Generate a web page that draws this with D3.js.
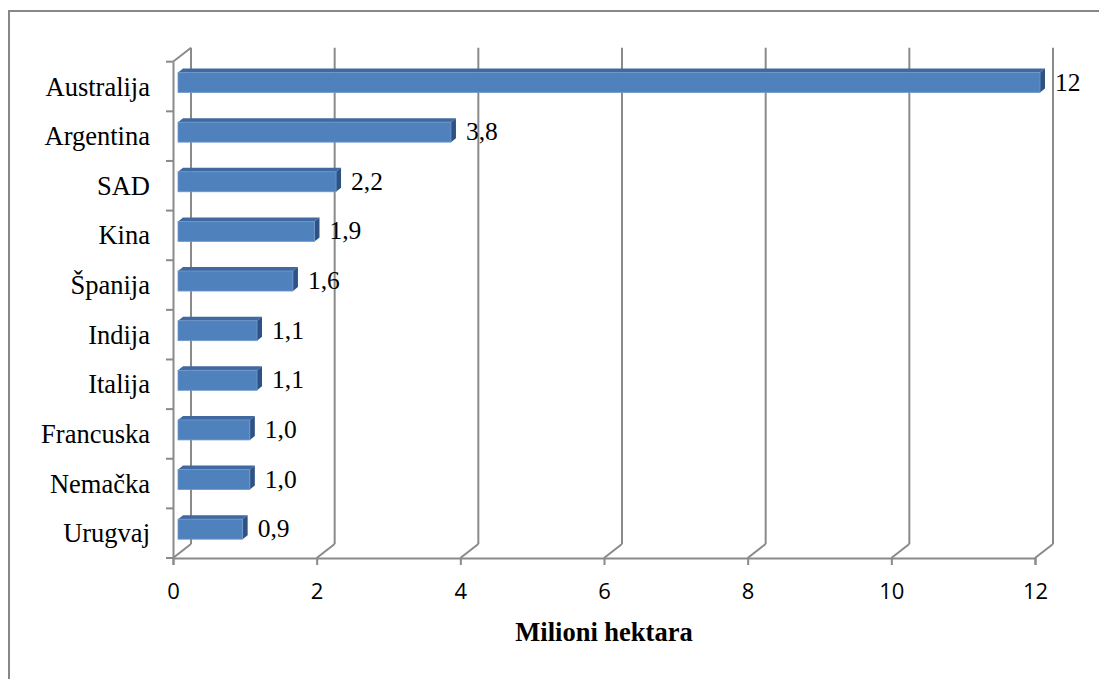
<!DOCTYPE html>
<html><head><meta charset="utf-8">
<script src="https://cdn.jsdelivr.net/npm/d3@7"></script>
<style>html,body{margin:0;padding:0;background:#fff;overflow:hidden}</style>
</head><body>
<svg id="c" width="1099" height="679"></svg>
<script>
const categories = ["Australija","Argentina","SAD","Kina","Španija","Indija","Italija","Francuska","Nemačka","Urugvaj"];
const values = [12, 3.8, 2.2, 1.9, 1.6, 1.1, 1.1, 1.0, 1.0, 0.9];
const valueLabels = ["12","3,8","2,2","1,9","1,6","1,1","1,1","1,0","1,0","0,9"];
const xTicks = [0,2,4,6,8,10,12];
const axisTitle = "Milioni hektara";

(function(){
const svg = d3.select("#c");
svg.append("rect").attr("x",9).attr("y",11).attr("width",1110).attr("height",690)
  .attr("fill","#fff").attr("stroke","#878787").attr("stroke-width",2);

const x = d3.scaleLinear().domain([0,12]).range([173,1035]);
const y = d3.scaleBand().domain(categories).range([61.7,558]).padding(0);
const DX = 18, DY = -14; // wall depth
const grid = "#8a8a8a";
const yTop = y.range()[0], yBot = y.range()[1];
const serif = "'Liberation Serif', 'Times New Roman', serif";

const g = svg.append("g");
xTicks.forEach(t => {
  const fx = x(t);
  g.append("line").attr("x1",fx+DX).attr("x2",fx+DX).attr("y1",yTop+DY).attr("y2",yBot+DY)
    .attr("stroke",grid).attr("stroke-width",2);
  g.append("line").attr("x1",fx).attr("x2",fx+DX).attr("y1",yBot).attr("y2",yBot+DY)
    .attr("stroke",grid).attr("stroke-width",2);
});
g.append("line").attr("x1",x(0)).attr("x2",x(0)+DX).attr("y1",yTop).attr("y2",yTop+DY)
  .attr("stroke",grid).attr("stroke-width",2);

const xAxis = d3.axisBottom(x).tickValues(xTicks).tickSize(7).tickFormat(d3.format("d"));
const xa = svg.append("g").attr("transform",`translate(0,${yBot})`).call(xAxis);
xa.select(".domain").attr("stroke",grid).attr("stroke-width",2);
xa.selectAll(".tick line").attr("stroke",grid).attr("stroke-width",2);
xa.selectAll(".tick text").attr("font-family","'Open Sans', sans-serif").attr("font-size",22)
  .attr("fill","#000").attr("y",41).attr("dy",null);

const yAxis = d3.axisLeft(y).tickSize(0).tickFormat("");
const ya = svg.append("g").attr("transform",`translate(${x(0)},0)`).call(yAxis);
ya.select(".domain").attr("stroke",grid).attr("stroke-width",2);
const bounds = categories.map(c => y(c)).concat([yBot]);
svg.append("g").selectAll("line").data(bounds).join("line")
  .attr("x1",x(0)-7).attr("x2",x(0)).attr("y1",d=>d).attr("y2",d=>d)
  .attr("stroke",grid).attr("stroke-width",2);

svg.append("g").selectAll("text").data(categories).join("text")
  .attr("x",150).attr("y",d=>y(d)+y.bandwidth()/2+9)
  .attr("text-anchor","end").attr("font-family",serif)
  .attr("font-size",26.5).attr("fill","#000").text(d=>d);

const bh = 20, bdx = 5, bdy = -4, off = 5;
const bars = svg.append("g").selectAll("g").data(categories).join("g");
bars.each(function(c,i){
  const gg = d3.select(this);
  const cy = y(c) + y.bandwidth()/2 - 4;
  const x0 = x(0)+off, x1 = x(values[i])+off;
  const y0 = cy - bh/2, y1 = cy + bh/2;
  gg.append("path").attr("d",`M${x0},${y0}L${x0+bdx},${y0+bdy}L${x1+bdx},${y0+bdy}L${x1},${y0}Z`)
    .attr("fill","#3f69a0");
  gg.append("path").attr("d",`M${x1},${y0}L${x1+bdx},${y0+bdy}L${x1+bdx},${y1+bdy}L${x1},${y1}Z`)
    .attr("fill","#2f5284");
  gg.append("rect").attr("x",x0).attr("y",y0).attr("width",x1-x0).attr("height",bh)
    .attr("fill","#4f81bd").attr("stroke","#6f98cc").attr("stroke-width",0.8);
  gg.append("text").attr("x",x1+15).attr("y",cy+8)
    .attr("font-family",serif)
    .attr("font-size",25.5).attr("fill","#000").text(valueLabels[i]);
});

svg.append("text").attr("x",(x(0)+x(12))/2).attr("y",641).attr("text-anchor","middle")
  .attr("font-family",serif).attr("font-weight","bold")
  .attr("font-size",26.5).attr("fill","#000").text(axisTitle);
})();
</script>
</body></html>
